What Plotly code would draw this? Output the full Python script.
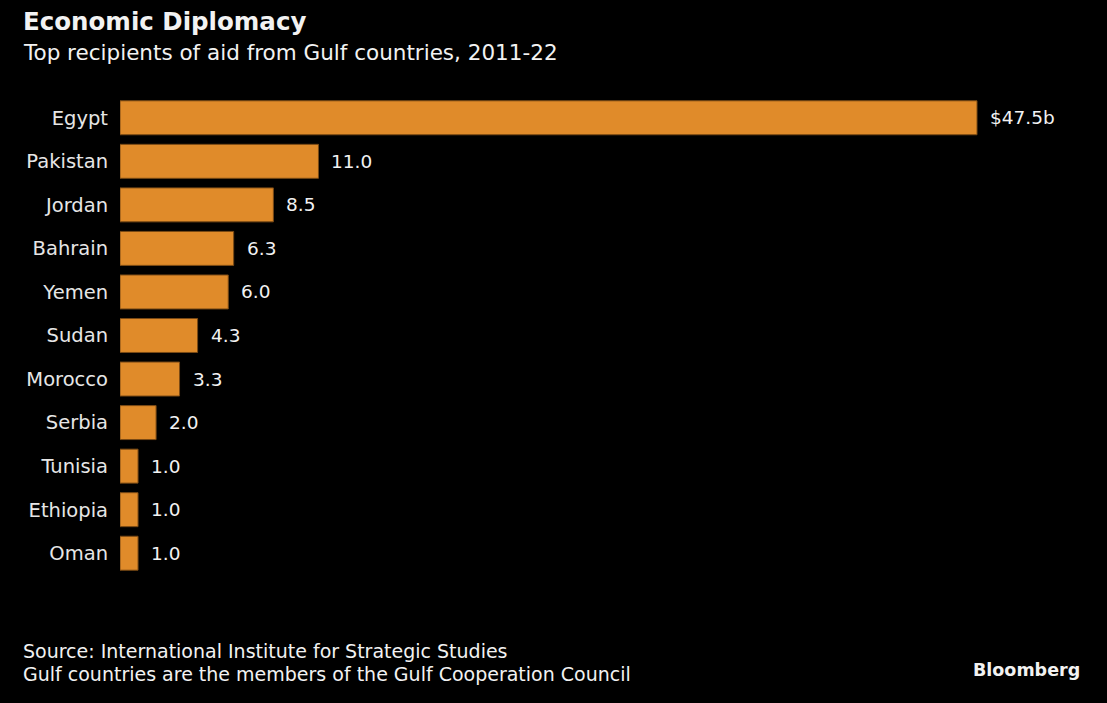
import plotly.graph_objects as go

countries = ["Egypt", "Pakistan", "Jordan", "Bahrain", "Yemen", "Sudan",
             "Morocco", "Serbia", "Tunisia", "Ethiopia", "Oman"]
aid_bn = [47.5, 11.0, 8.5, 6.3, 6.0, 4.3, 3.3, 2.0, 1.0, 1.0, 1.0]
value_labels = ["$47.5b", "11.0", "8.5", "6.3", "6.0", "4.3", "3.3", "2.0", "1.0", "1.0", "1.0"]

FONT = "DejaVu Sans"
BAR = "#E08B2A"

fig = go.Figure(go.Bar(
    x=aid_bn, y=countries, orientation="h",
    marker=dict(color=BAR, line=dict(color="#7a4a15", width=1)),
    hoverinfo="skip",
))

for c, v, t in zip(countries, aid_bn, value_labels):
    fig.add_annotation(x=v, y=c, text=t, showarrow=False, xanchor="left",
                       xshift=11, font=dict(family=FONT, size=18.5, color="#f2f2f2"))

W, H = 1107, 703
texts = [
    dict(text="<b>Economic Diplomacy</b>", x=21, y=22, size=24.5),
    dict(text="Top recipients of aid from Gulf countries, 2011-22", x=21, y=52, size=21.5),
    dict(text="Source: International Institute for Strategic Studies", x=21, y=651, size=19),
    dict(text="Gulf countries are the members of the Gulf Cooperation Council", x=21, y=674, size=19),
]
for t in texts:
    fig.add_annotation(text=t["text"], xref="paper", yref="paper",
                       x=(t["x"] - 120) / (W - 120), y=(H - 128 - t["y"]) / (H - 96 - 128),
                       xanchor="left", yanchor="middle", showarrow=False,
                       font=dict(family=FONT, size=t["size"], color="#f2f2f2"))
fig.add_annotation(text="<b>Bloomberg</b>", xref="paper", yref="paper",
                   x=(1082 - 120) / (W - 120), y=(H - 128 - 670) / (H - 96 - 128),
                   xanchor="right", yanchor="middle", showarrow=False,
                   font=dict(family=FONT, size=17.5, color="#f2f2f2"))

fig.update_layout(
    width=W, height=H,
    paper_bgcolor="#000000", plot_bgcolor="#000000",
    margin=dict(l=120, r=0, t=96, b=128),
    bargap=0.22,
    showlegend=False,
    xaxis=dict(range=[0, 47.5 * (W - 120) / 857], visible=False, fixedrange=True),
    yaxis=dict(autorange="reversed", showgrid=False, showline=False, zeroline=False,
               ticks="", ticklabelstandoff=11,
               tickfont=dict(family=FONT, size=19.5, color="#e6e6e6")),
)

fig.write_html("out.html")
